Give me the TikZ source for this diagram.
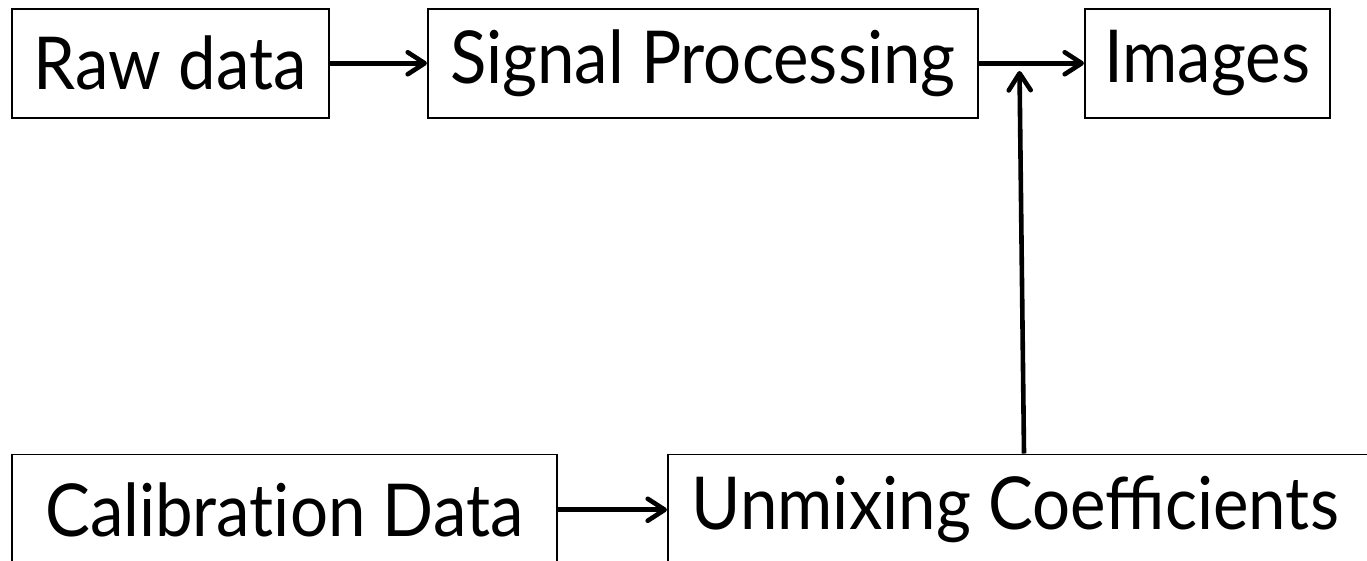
\documentclass[tikz,border=0pt]{standalone}
\usepackage{fontspec}
\setmainfont{Lato}[FakeStretch=0.92]
\usetikzlibrary{arrows.meta}
\tikzset{
  stagebox/.style={draw=black, line width=1.5pt, inner sep=0pt, anchor=north west,
    font=\fontsize{73}{80}\selectfont},
  flow/.style={draw=black, line width=4.6pt,
    -{Straight Barb[length=17pt, width=22pt, round]}}
}
\begin{document}
\begin{tikzpicture}[x=1pt, y=-1pt]
\useasboundingbox (0,0) rectangle (1367,560);
\clip (0,0) rectangle (1367,560);
% upper row
\node[stagebox, minimum width=317pt, minimum height=109pt] (raw) at (11,8) {Raw data};
\node[stagebox, minimum width=550pt, minimum height=109pt] (sig) at (427,8) {Signal Processing};
\node[stagebox, minimum width=245pt, minimum height=109pt] (img) at (1084,8) {Images};
% lower row (runs past the page edge)
\node[stagebox, minimum width=545pt, minimum height=111pt] (cal) at (11,453.5) {Calibrat\kern0pt ion Data};
\node[stagebox, minimum width=740pt, minimum height=111pt] (unm) at (667,453.5)
  {\makebox[740pt][l]{\hspace*{24pt}Unmixing Coefficients}};
% connectors
\draw[flow] (raw.east) -- (sig.west);
\draw[flow] (sig.east) -- (img.west);
\draw[flow] (cal.east) -- (cal.east -| unm.west);
\coordinate (join) at (1019.5,71);
\draw[flow] (unm.north west) ++(357,0) -- (join);
\end{tikzpicture}
\end{document}
